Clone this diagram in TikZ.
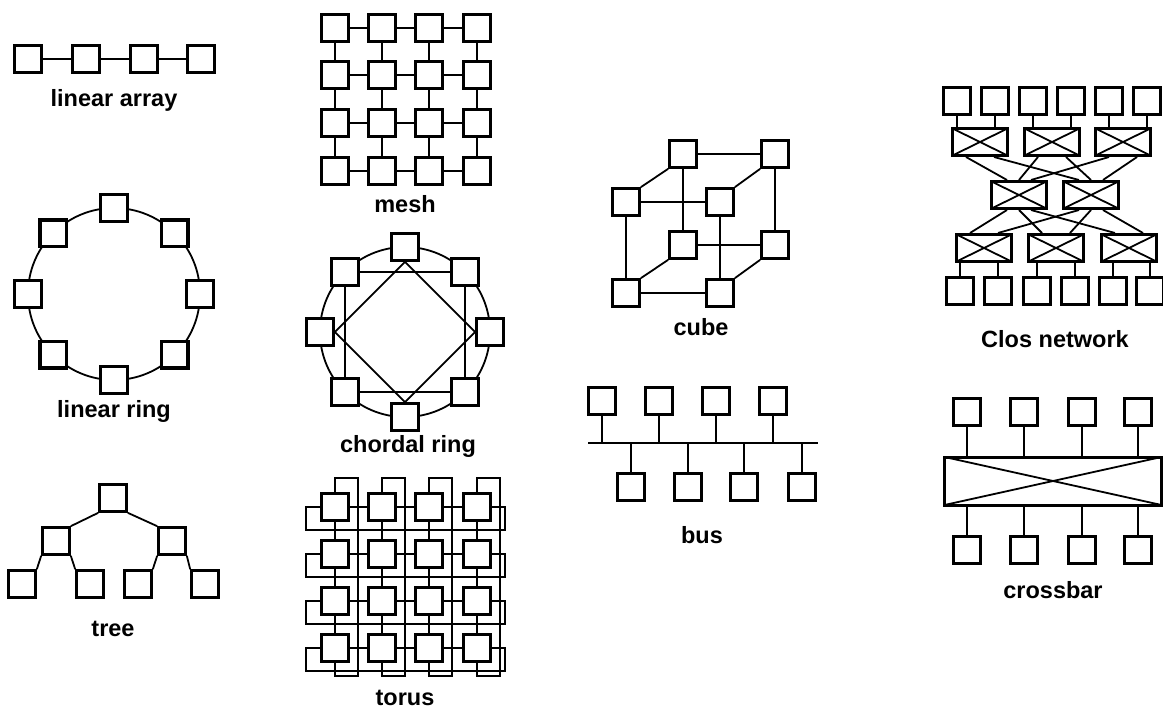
\documentclass[tikz,border=0pt]{standalone}
\usepackage{fontspec}
\setmainfont{Liberation Sans}
\usetikzlibrary{calc}
\tikzset{
  pe/.style={draw,line width=3.2pt,fill=white,minimum size=26.5pt,inner sep=0pt},
  sw/.style={draw,line width=3pt,fill=white,minimum width=55pt,minimum height=27pt,inner sep=0pt,
    path picture={\draw[line width=1.8pt] (path picture bounding box.north west) -- (path picture bounding box.south east)
      (path picture bounding box.south west) -- (path picture bounding box.north east);}},
  link/.style={line width=1.8pt},
  lbl/.style={font=\fontsize{23.5}{26}\selectfont\bfseries}
}

\begin{document}
\begin{tikzpicture}[x=1pt,y=-1pt]
  \useasboundingbox (0,0) rectangle (1163,709);

  % linear array
  \foreach \x [count=\i] in {28,86,144,201}
    \node[pe] (la\i) at (\x,59) {};
  \foreach \i/\k in {1/2,2/3,3/4}
    \draw[link] (la\i.east) -- (la\k.west);
  \node[lbl] (lalbl) at (114,100) {linear array};

  % linear ring
  \draw[link] (114,294) circle[radius=86pt];
  \foreach \i in {0,...,7}
    \node[pe] (lr\i) at ($(114,294)+(\i*45:86)$) {};
  \node[lbl] (lrlbl) at (114,411) {linear ring};

  % tree
  \foreach \x/\y [count=\i from 0] in {113/498,56/541,172/541,22/584,90/584,138/584,205/584}
    \node[pe] (tr\i) at (\x,\y) {};
  \foreach \p/\l/\r in {0/1/2,1/3/4,2/5/6} {
    \draw[link] (tr\p.south west) -- (tr\l.north east);
    \draw[link] (tr\p.south east) -- (tr\r.north west);
  }
  \node[lbl] (trlbl) at (113,629) {tree};

  % mesh
  \foreach \y [count=\i] in {28,75,123,171}
    \foreach \x [count=\j] in {335,382,429,477}
      \node[pe] (m\i\j) at (\x,\y) {};
  \foreach \i/\k in {1/2,2/3,3/4}
    \foreach \j in {1,...,4} {
      \draw[link] (m\i\j.south) -- (m\k\j.north);
      \draw[link] (m\j\i.east) -- (m\j\k.west);
    }
  \node[lbl] (mlbl) at (405,204) {mesh};

  % chordal ring
  \draw[link] (405,332) circle[radius=85pt];
  \foreach \i in {0,...,7}
    \node[pe] (cr\i) at ($(405,332)+(\i*45:85)$) {};
  \draw[link] (cr5.east) -- (cr7.west);
  \draw[link] (cr7.south) -- (cr1.north);
  \draw[link] (cr1.west) -- (cr3.east);
  \draw[link] (cr3.north) -- (cr5.south);
  \draw[link] (cr6.south) -- (cr4.east) -- (cr2.north) -- (cr0.west) -- cycle;
  \node[lbl] (crlbl) at (408,446) {chordal ring};

  % torus
  \foreach \y [count=\i] in {507,554,601,648}
    \foreach \x [count=\j] in {335,382,429,477}
      \node[pe] (t\i\j) at (\x,\y) {};
  \foreach \i/\k in {1/2,2/3,3/4}
    \foreach \j in {1,...,4} {
      \draw[link] (t\i\j.south) -- (t\k\j.north);
      \draw[link] (t\j\i.east) -- (t\j\k.west);
    }
  \foreach \j in {1,...,4} {
    \draw[link] (t1\j.north) |- ($(t1\j)+(23,-29)$) |- ($(t4\j)+(0,28)$) -- (t4\j.south);
    \draw[link] (t\j1.west) -| ($(t\j1)+(-29,23)$) -| ($(t\j4)+(28,0)$) -- (t\j4.east);
  }
  \node[lbl] (tlbl) at (405,698) {torus};

  % cube
  \foreach \n/\x/\y in {ftl/626/202,ftr/720/202,fbl/626/293,fbr/720/293,
                        btl/683/154,btr/775/154,bbl/683/245,bbr/775/245}
    \node[pe] (\n) at (\x,\y) {};
  \foreach \f in {f,b} {
    \draw[link] (\f tl.east) -- (\f tr.west);
    \draw[link] (\f bl.east) -- (\f br.west);
    \draw[link] (\f tl.south) -- (\f bl.north);
    \draw[link] (\f tr.south) -- (\f br.north);
  }
  \foreach \c in {tl,tr,bl,br}
    \draw[link] (f\c.north east) -- (b\c.south west);
  \node[lbl] (cblbl) at (701,327) {cube};

  % bus
  \coordinate (busl) at (588,443);
  \coordinate (busr) at (818,443);
  \draw[link] (busl) -- (busr);
  \foreach \x [count=\i] in {602,659,716,773} {
    \node[pe] (bu\i) at (\x,401) {};
    \draw[link] (bu\i.south) -- (bu\i.south |- busl);
  }
  \foreach \x [count=\i] in {631,688,744,802} {
    \node[pe] (bd\i) at (\x,487) {};
    \draw[link] (bd\i.north) -- (bd\i.north |- busl);
  }
  \node[lbl] (bulbl) at (702,535) {bus};

  % Clos network
  \foreach \x [count=\i] in {980,1052,1123} {
    \node[sw] (ts\i) at (\x,142) {};
  }
  \foreach \x [count=\i] in {984,1056,1129} {
    \node[sw] (bs\i) at (\x,248) {};
  }
  \node[sw] (ms1) at (1019,195) {};
  \node[sw] (ms2) at (1091,195) {};
  \foreach \x/\s [count=\i] in {957/1,995/1,1033/2,1071/2,1109/3,1147/3} {
    \node[pe] (ct\i) at (\x,101) {};
    \draw[link] (ct\i.south) -- (ct\i.south |- ts\s.north);
  }
  \foreach \x/\s [count=\i] in {960/1,998/1,1037/2,1075/2,1113/3,1150/3} {
    \node[pe] (cb\i) at (\x,291) {};
    \draw[link] (cb\i.north) -- (cb\i.north |- bs\s.south);
  }
  \foreach \i/\d in {1/-12,2/0,3/12} {
    \draw[link] ([xshift=-14pt]ts\i.south) -- ([xshift=\d pt]ms1.north);
    \draw[link] ([xshift=14pt]ts\i.south) -- ([xshift=\d pt]ms2.north);
    \draw[link] ([xshift=-14pt]bs\i.north) -- ([xshift=\d pt]ms1.south);
    \draw[link] ([xshift=14pt]bs\i.north) -- ([xshift=\d pt]ms2.south);
  }
  \node[lbl] (cllbl) at (1055,339) {Clos network};

  % crossbar
  \node[sw,minimum width=217pt,minimum height=48pt] (xbar) at (1053,481) {};
  \foreach \x [count=\i] in {967,1024,1082,1138} {
    \node[pe] (xt\i) at (\x,412) {};
    \node[pe] (xb\i) at (\x,550) {};
    \draw[link] (xt\i.south) -- (xt\i.south |- xbar.north);
    \draw[link] (xb\i.north) -- (xb\i.north |- xbar.south);
  }
  \node[lbl] (xlbl) at (1053,590) {crossbar};
\end{tikzpicture}
\end{document}
